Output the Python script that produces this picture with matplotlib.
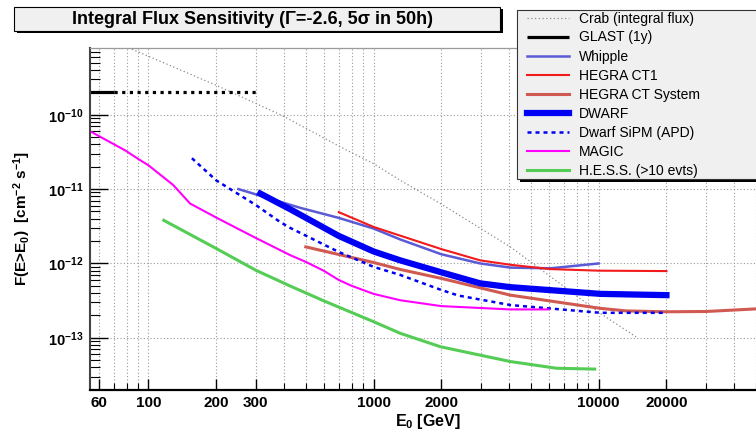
import numpy as np
import matplotlib
matplotlib.use("Agg")
import matplotlib.pyplot as plt
from matplotlib.patches import Rectangle
from matplotlib.ticker import FixedLocator, FixedFormatter, LogLocator, NullFormatter, FuncFormatter

plt.rcParams['font.family'] = ['Liberation Sans', 'DejaVu Sans']
plt.rcParams['mathtext.fontset'] = 'custom'
plt.rcParams['mathtext.rm'] = 'Liberation Sans:bold'
plt.rcParams['mathtext.bf'] = 'Liberation Sans:bold'
plt.rcParams['mathtext.it'] = 'Liberation Sans:bold'
plt.rcParams['mathtext.default'] = 'rm'

# ---------------- data ----------------
crab_E = [81.5, 201, 391, 762, 1000, 1315, 1979, 4052, 10176, 14660]
crab_F = [7.96e-10, 2.47e-10, 9.8e-11, 3.32e-11, 2.2e-11, 1.31e-11, 6.4e-12, 1.67e-12, 2.13e-13, 1.03e-13]

glast_E = [55, 70, 300]
glast_F = [2.0e-10, 2.0e-10, 2.0e-10]

whipple_E = [251, 472, 700, 1000, 1315, 2000, 2978, 4052, 6100, 10000]
whipple_F = [1.0e-11, 5.6e-12, 4.1e-12, 2.95e-12, 2.1e-12, 1.33e-12, 1.0e-12, 8.8e-13, 8.6e-13, 1.0e-12]

ct1_E = [700, 1000, 2000, 2978, 4052, 6100, 10000, 20000]
ct1_F = [4.9e-12, 3.1e-12, 1.56e-12, 1.1e-12, 9.6e-13, 8.4e-13, 8.0e-13, 7.9e-13]

ctsys_E = [500, 1000, 1315, 2000, 4052, 10176, 13300, 20000, 30000, 50000]
ctsys_F = [1.67e-12, 1.03e-12, 8.3e-13, 6.3e-13, 3.75e-13, 2.49e-13, 2.3e-13, 2.24e-13, 2.26e-13, 2.45e-13]

dwarf_E = [314, 427, 700, 1000, 1315, 2000, 2978, 4052, 10176, 20000]
dwarf_F = [8.7e-12, 5.35e-12, 2.35e-12, 1.45e-12, 1.1e-12, 7.6e-13, 5.4e-13, 4.8e-13, 3.9e-13, 3.75e-13]

sipm_E = [156, 200, 300, 385, 427, 700, 1000, 1315, 2000, 2385, 4052, 10176, 20000]
sipm_F = [2.6e-11, 1.31e-11, 6.1e-12, 3.6e-12, 3.0e-12, 1.43e-12, 9.0e-13, 7.0e-13, 4.4e-13, 3.7e-13, 2.76e-13, 2.17e-13, 2.17e-13]

magic_E = [55, 79, 92, 100, 129, 153, 200, 300, 427, 500, 600, 700, 800, 1000, 1315, 2000, 4052, 6000]
magic_F = [6.0e-11, 3.3e-11, 2.44e-11, 2.09e-11, 1.13e-11, 6.4e-12, 4.14e-12, 2.2e-12, 1.29e-12, 1.05e-12,
           8.0e-13, 6.0e-13, 5.0e-13, 3.9e-13, 3.2e-13, 2.67e-13, 2.41e-13, 2.41e-13]

hess_E = [117, 200, 300, 427, 600, 1000, 1315, 1979, 4052, 6500, 9600]
hess_F = [3.8e-12, 1.59e-12, 8.1e-13, 4.96e-13, 3.15e-13, 1.65e-13, 1.15e-13, 7.6e-14, 4.8e-14, 3.9e-14, 3.8e-14]

x_ticks = [60, 100, 200, 300, 1000, 2000, 10000, 20000]
x_tick_labels = ["60", "100", "200", "300", "1000", "2000", "10000", "20000"]
y_decades = [1e-13, 1e-12, 1e-11, 1e-10]

labels = ["Crab (integral flux)", "GLAST (1y)", "Whipple", "HEGRA CT1", "HEGRA CT System",
          "DWARF", "Dwarf SiPM (APD)", "MAGIC", "H.E.S.S. (>10 evts)"]
title = "Integral Flux Sensitivity (\u0393=-2.6, 5\u03c3 in 50h)"

# ---------------- figure ----------------
W, H = 756, 436
fig = plt.figure(figsize=(W / 100, H / 100), dpi=100)
fig.patch.set_facecolor('white')
ax = fig.add_axes([90 / W, (H - 389.5) / H, 666 / W, 341.8 / H])
ax.set_xscale('log')
ax.set_yscale('log')
ax.set_xlim(55, 50000)
ax.set_ylim(2.02e-14, 7.96e-10)

# grid
ax.grid(True, which='both', axis='x', color='#9a9a9a', linestyle=(0, (1, 2)), linewidth=0.8)
ax.grid(True, which='major', axis='y', color='#9a9a9a', linestyle=(0, (1, 2)), linewidth=0.8)
ax.set_axisbelow(True)

h_crab, = ax.plot(crab_E, crab_F, color='#8a8a8a', lw=0.9, linestyle=(0, (1, 2)), label=labels[0])
h_glast, = ax.plot(glast_E[:2], glast_F[:2], color='black', lw=2.3, solid_capstyle='butt', label=labels[1])
ax.plot(glast_E[1:], glast_F[1:], color='black', lw=2.3, linestyle=(0, (1, 1.4)),
        dash_capstyle='butt', label='_nolegend_')
h_wh, = ax.plot(whipple_E, whipple_F, color='#5a5ad6', lw=1.8, label=labels[2])
h_ct1, = ax.plot(ct1_E, ct1_F, color='#f21a1a', lw=1.5, label=labels[3])
h_sys, = ax.plot(ctsys_E, ctsys_F, color='#d05a52', lw=2.2, label=labels[4])
h_dw, = ax.plot(dwarf_E, dwarf_F, color='#0000f5', lw=4.5, label=labels[5])
h_si, = ax.plot(sipm_E, sipm_F, color='#0000f5', lw=1.8, linestyle=(0, (1.6, 1.6)),
                dash_capstyle='butt', label=labels[6])
h_mg, = ax.plot(magic_E, magic_F, color='#ff00ff', lw=1.5, label=labels[7])
h_hs, = ax.plot(hess_E, hess_F, color='#55cc55', lw=2.2, label=labels[8])

# ticks
ax.xaxis.set_major_locator(FixedLocator(x_ticks))
ax.xaxis.set_major_formatter(FixedFormatter(x_tick_labels))
ax.xaxis.set_minor_locator(LogLocator(base=10, subs=np.arange(1, 10), numticks=50))
ax.xaxis.set_minor_formatter(NullFormatter())
ax.yaxis.set_major_locator(FixedLocator(y_decades))
ax.yaxis.set_major_formatter(FuncFormatter(lambda v, p: r"$10^{%d}$" % int(round(np.log10(v)))))
ax.yaxis.set_minor_locator(LogLocator(base=10, subs=np.arange(2, 10), numticks=50))
ax.yaxis.set_minor_formatter(NullFormatter())

ax.tick_params(axis='x', which='major', direction='in', length=8, width=1.0, pad=5,
               labelsize=11, top=False, colors='black')
ax.tick_params(axis='x', which='minor', direction='in', length=5, width=0.8, top=False)
ax.tick_params(axis='y', which='major', direction='in', length=13, width=1.0, pad=5,
               labelsize=10.5, right=False)
ax.tick_params(axis='y', which='minor', direction='in', length=7, width=0.8, right=False)
for lab in ax.get_xticklabels():
    lab.set_fontweight('bold')

ax.spines['left'].set_color('#444444')
ax.spines['left'].set_linewidth(1.5)
ax.spines['bottom'].set_color('black')
ax.spines['bottom'].set_linewidth(1.6)
ax.spines['top'].set_color('#9a9a9a')
ax.spines['top'].set_linewidth(0.9)
ax.spines['right'].set_visible(False)

ax.set_xlabel(r"E$_0$ [GeV]", fontsize=11.5, fontweight='bold')
ax.xaxis.set_label_coords((428 - 90) / 666, (389.5 - 412) / 341.8)
ax.set_ylabel(r"F(E>E$_0$)  [cm$^{-2}$ s$^{-1}$]", fontsize=11, fontweight='bold')
ax.yaxis.label.set_va('center')
ax.yaxis.set_label_coords((22 - 90) / 666, (389.5 - 218.5) / 341.8)

# title box with shadow
def fig_rect(x0, y0, x1, y1, **kw):
    return Rectangle((x0 / W, 1 - y1 / H), (x1 - x0) / W, (y1 - y0) / H,
                     transform=fig.transFigure, **kw)

fig.add_artist(fig_rect(16.5, 9.5, 502.5, 33, facecolor='black', edgecolor='none', zorder=5))
fig.add_artist(fig_rect(14, 7, 500, 30.7, facecolor='#f0f0f0', edgecolor='black', lw=0.8, zorder=6))
fig.text(252 / W, 1 - 19.5 / H, title, ha='center', va='center', fontsize=13, fontweight='bold', zorder=7)

# legend box with shadow
fig.add_artist(fig_rect(520, 13, 770, 182, facecolor='black', edgecolor='none', zorder=5))
fig.add_artist(fig_rect(517, 10, 770, 179, facecolor='#f0f0f0', edgecolor='#333333', lw=0.8, zorder=6))
handles = [h_crab, h_glast, h_wh, h_ct1, h_sys, h_dw, h_si, h_mg, h_hs]
leg = fig.legend(handles, labels, loc='upper left', bbox_to_anchor=(527 / W, 1 - 11.5 / H),
                 borderaxespad=0, borderpad=0, frameon=False, fontsize=10,
                 handlelength=3.0, handletextpad=0.72, labelspacing=0.36)
leg.set_zorder(8)

fig.savefig("out.png", dpi=100)
